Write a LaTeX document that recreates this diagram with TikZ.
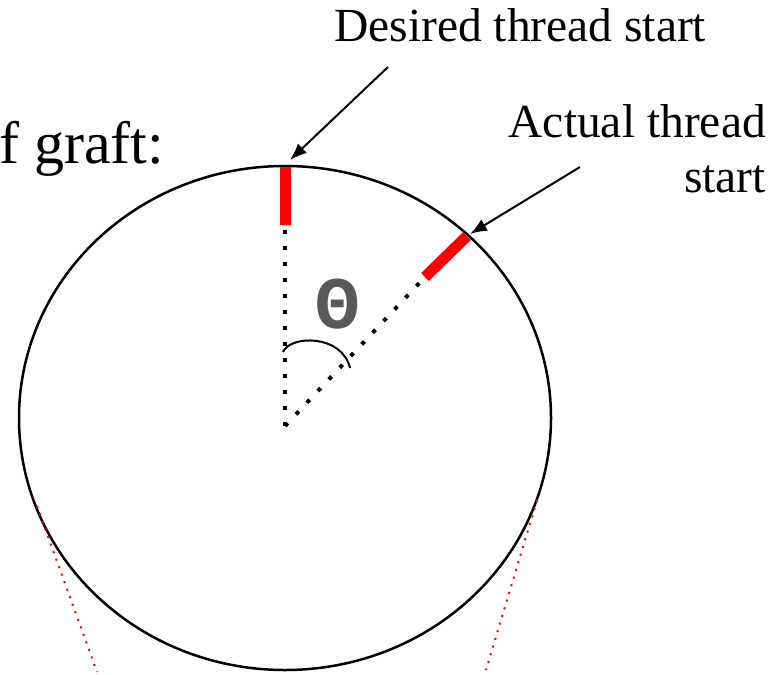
\documentclass[tikz,border=0pt]{standalone}
\usepackage{fontspec}
\setmainfont{Liberation Serif}
\newfontfamily\thetafont{Liberation Mono}
\usetikzlibrary{arrows.meta}
\definecolor{thetagray}{HTML}{595959}
\tikzset{
  label/.style={inner sep=0pt, font=\fontsize{47.5}{55}\selectfont},
  pointer/.style={line width=2pt, -{Latex[length=17pt,width=13pt]}},
  radius line/.style={line width=4pt, dash pattern=on 4pt off 12pt},
  threadmark/.style={line width=11pt, red},
  tangent/.style={red, line width=2pt, dash pattern=on 2pt off 6pt},
}
\begin{document}
\begin{tikzpicture}[x=1pt,y=-1pt]
\useasboundingbox (0,0) rectangle (783,674);
% graft circle
\draw[line width=2.5pt] (285,418) ellipse [x radius=266, y radius=252];
% tangent red dotted lines
\coordinate (tl1) at (37,506); \coordinate (tl2) at (97,672);
\coordinate (tr1) at (537,500); \coordinate (tr2) at (486,670);
\draw[tangent] (tl1) -- (tl2);
\draw[tangent] (tr1) -- (tr2);
% radii
\coordinate (c) at (285,426);
\coordinate (dtop) at (285,226);
\coordinate (dact) at (425,277);
\draw[radius line] (c) -- (dtop);
\draw[radius line] (c) -- (dact);
% thread marks
\coordinate (m1a) at (285,167); \coordinate (m1b) at (285,225);
\coordinate (m2a) at (425,277); \coordinate (m2b) at (467,236);
\draw[threadmark] (m1a) -- (m1b);
\draw[threadmark] (m2a) -- (m2b);
% angle arc
\coordinate (a1) at (283,352); \coordinate (a2) at (350,368);
\draw[line width=2pt] (a1) .. controls (290,335) and (342,334) .. (a2);
\node[inner sep=0pt, text=thetagray, font=\thetafont\bfseries\fontsize{74}{74}\selectfont] (theta) at (338,304) {Θ};
% labels
\node[label, anchor=base west] (desired) at (334,42) {Desired thread start};
\node[label, anchor=base east] (actual1) at (766,137) {Actual thread};
\node[label, anchor=base east] (actual2) at (766,192) {start};
\node[inner sep=0pt, anchor=base west, font=\fontsize{60}{60}\selectfont] (graft) at (-1,163) {f graft:};
% arrows
\coordinate (p1s) at (388,67); \coordinate (p1e) at (290,160);
\coordinate (p2s) at (580,167); \coordinate (p2e) at (470,234);
\draw[pointer] (p1s) -- (p1e);
\draw[pointer] (p2s) -- (p2e);
\end{tikzpicture}
\end{document}
